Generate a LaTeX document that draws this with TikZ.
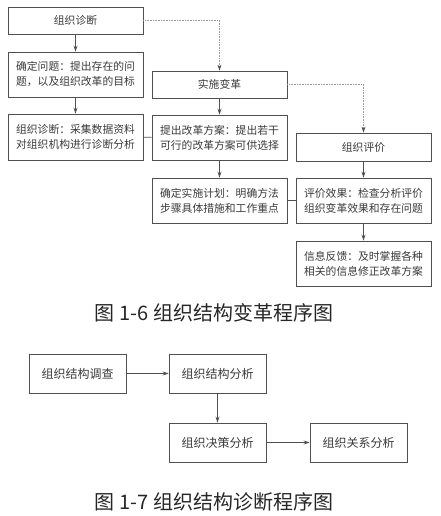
\documentclass[tikz,border=0pt]{standalone}
\usepackage{fontspec}
\setmainfont{Noto Sans CJK SC}
\usetikzlibrary{arrows.meta}
\definecolor{ink}{HTML}{3A3A3A}
\definecolor{boxline}{HTML}{505050}
\definecolor{dotline}{HTML}{9A9A9A}
\begin{document}
\begin{tikzpicture}[x=1pt,y=-1pt,
  every node/.style={text=ink},
  box/.style={draw=boxline,line width=0.9pt,minimum width=135pt,inner sep=0pt,font=\fontsize{10.8}{15}\selectfont,align=center},
  sbox/.style={box,minimum height=27pt},
  tbox/.style={box,minimum height=45pt},
  dbox/.style={draw=boxline,line width=0.9pt,minimum width=97pt,minimum height=39pt,inner sep=0pt,font=\fontsize{12}{15}\selectfont},
  arr/.style={draw=boxline,line width=0.8pt,-{Stealth[length=6pt,width=4pt]}},
  link/.style={draw=boxline,line width=0.8pt},
  dots/.style={draw=dotline,line width=0.6pt,densely dotted,-{Stealth[length=6pt,width=4pt,color=boxline]}},
  captext/.style={font=\fontsize{20}{22}\selectfont,text=black!85}
]
\useasboundingbox (0,0) rectangle (441,516);
% left column
\node[sbox] (a1) at (75.5,20.5) {组织诊断};
\node[tbox] (a2) at (75.5,74.5) {确定问题：提出存在的问\\题，以及组织改革的目标};
\node[tbox,minimum height=46pt] (a3) at (75.5,137) {组织诊断：采集数据资料\\对组织机构进行诊断分析};
% middle column
\node[sbox] (b1) at (219.5,84.5) {实施变革};
\node[tbox] (b2) at (219.5,137.5) {提出改革方案：提出若干\\可行的改革方案可供选择};
\node[tbox] (b3) at (219.5,200.5) {确定实施计划：明确方法\\步骤具体措施和工作重点};
% right column
\node[sbox,minimum height=28pt] (c1) at (363.5,147) {组织评价};
\node[tbox] (c2) at (363.5,200.5) {评价效果：检查分析评价\\组织变革效果和存在问题};
\node[tbox] (c3) at (363.5,263.5) {信息反馈：及时掌握各种\\相关的信息修正改革方案};
% connectors
\draw[arr] (a1) -- (a2);
\draw[arr] (a2) -- (a3);
\draw[arr] (b1) -- (b2);
\draw[arr] (b2) -- (b3);
\draw[arr] (c1) -- (c2);
\draw[arr] (c2) -- (c3);
\draw[link] (a3) -- (b2);
\draw[link] (b3) -- (c2);
\draw[dots] (a1.east) -| (b1.north);
\draw[dots] (b1.east) -| (c1.north);
\node[captext] (cap1) at (214,313) {图 1-6 组织结构变革程序图};
% figure 1-7
\node[dbox] (d1) at (77.5,373.5) {组织结构调查};
\node[dbox] (d2) at (217.5,373.5) {组织结构分析};
\node[dbox] (d3) at (217.5,442.5) {组织决策分析};
\node[dbox] (d4) at (358.5,442.5) {组织关系分析};
\draw[arr] (d1) -- (d2);
\draw[arr] (d2) -- (d3);
\draw[arr] (d3) -- (d4);
\node[captext] (cap2) at (214,502) {图 1-7 组织结构诊断程序图};
\end{tikzpicture}
\end{document}
